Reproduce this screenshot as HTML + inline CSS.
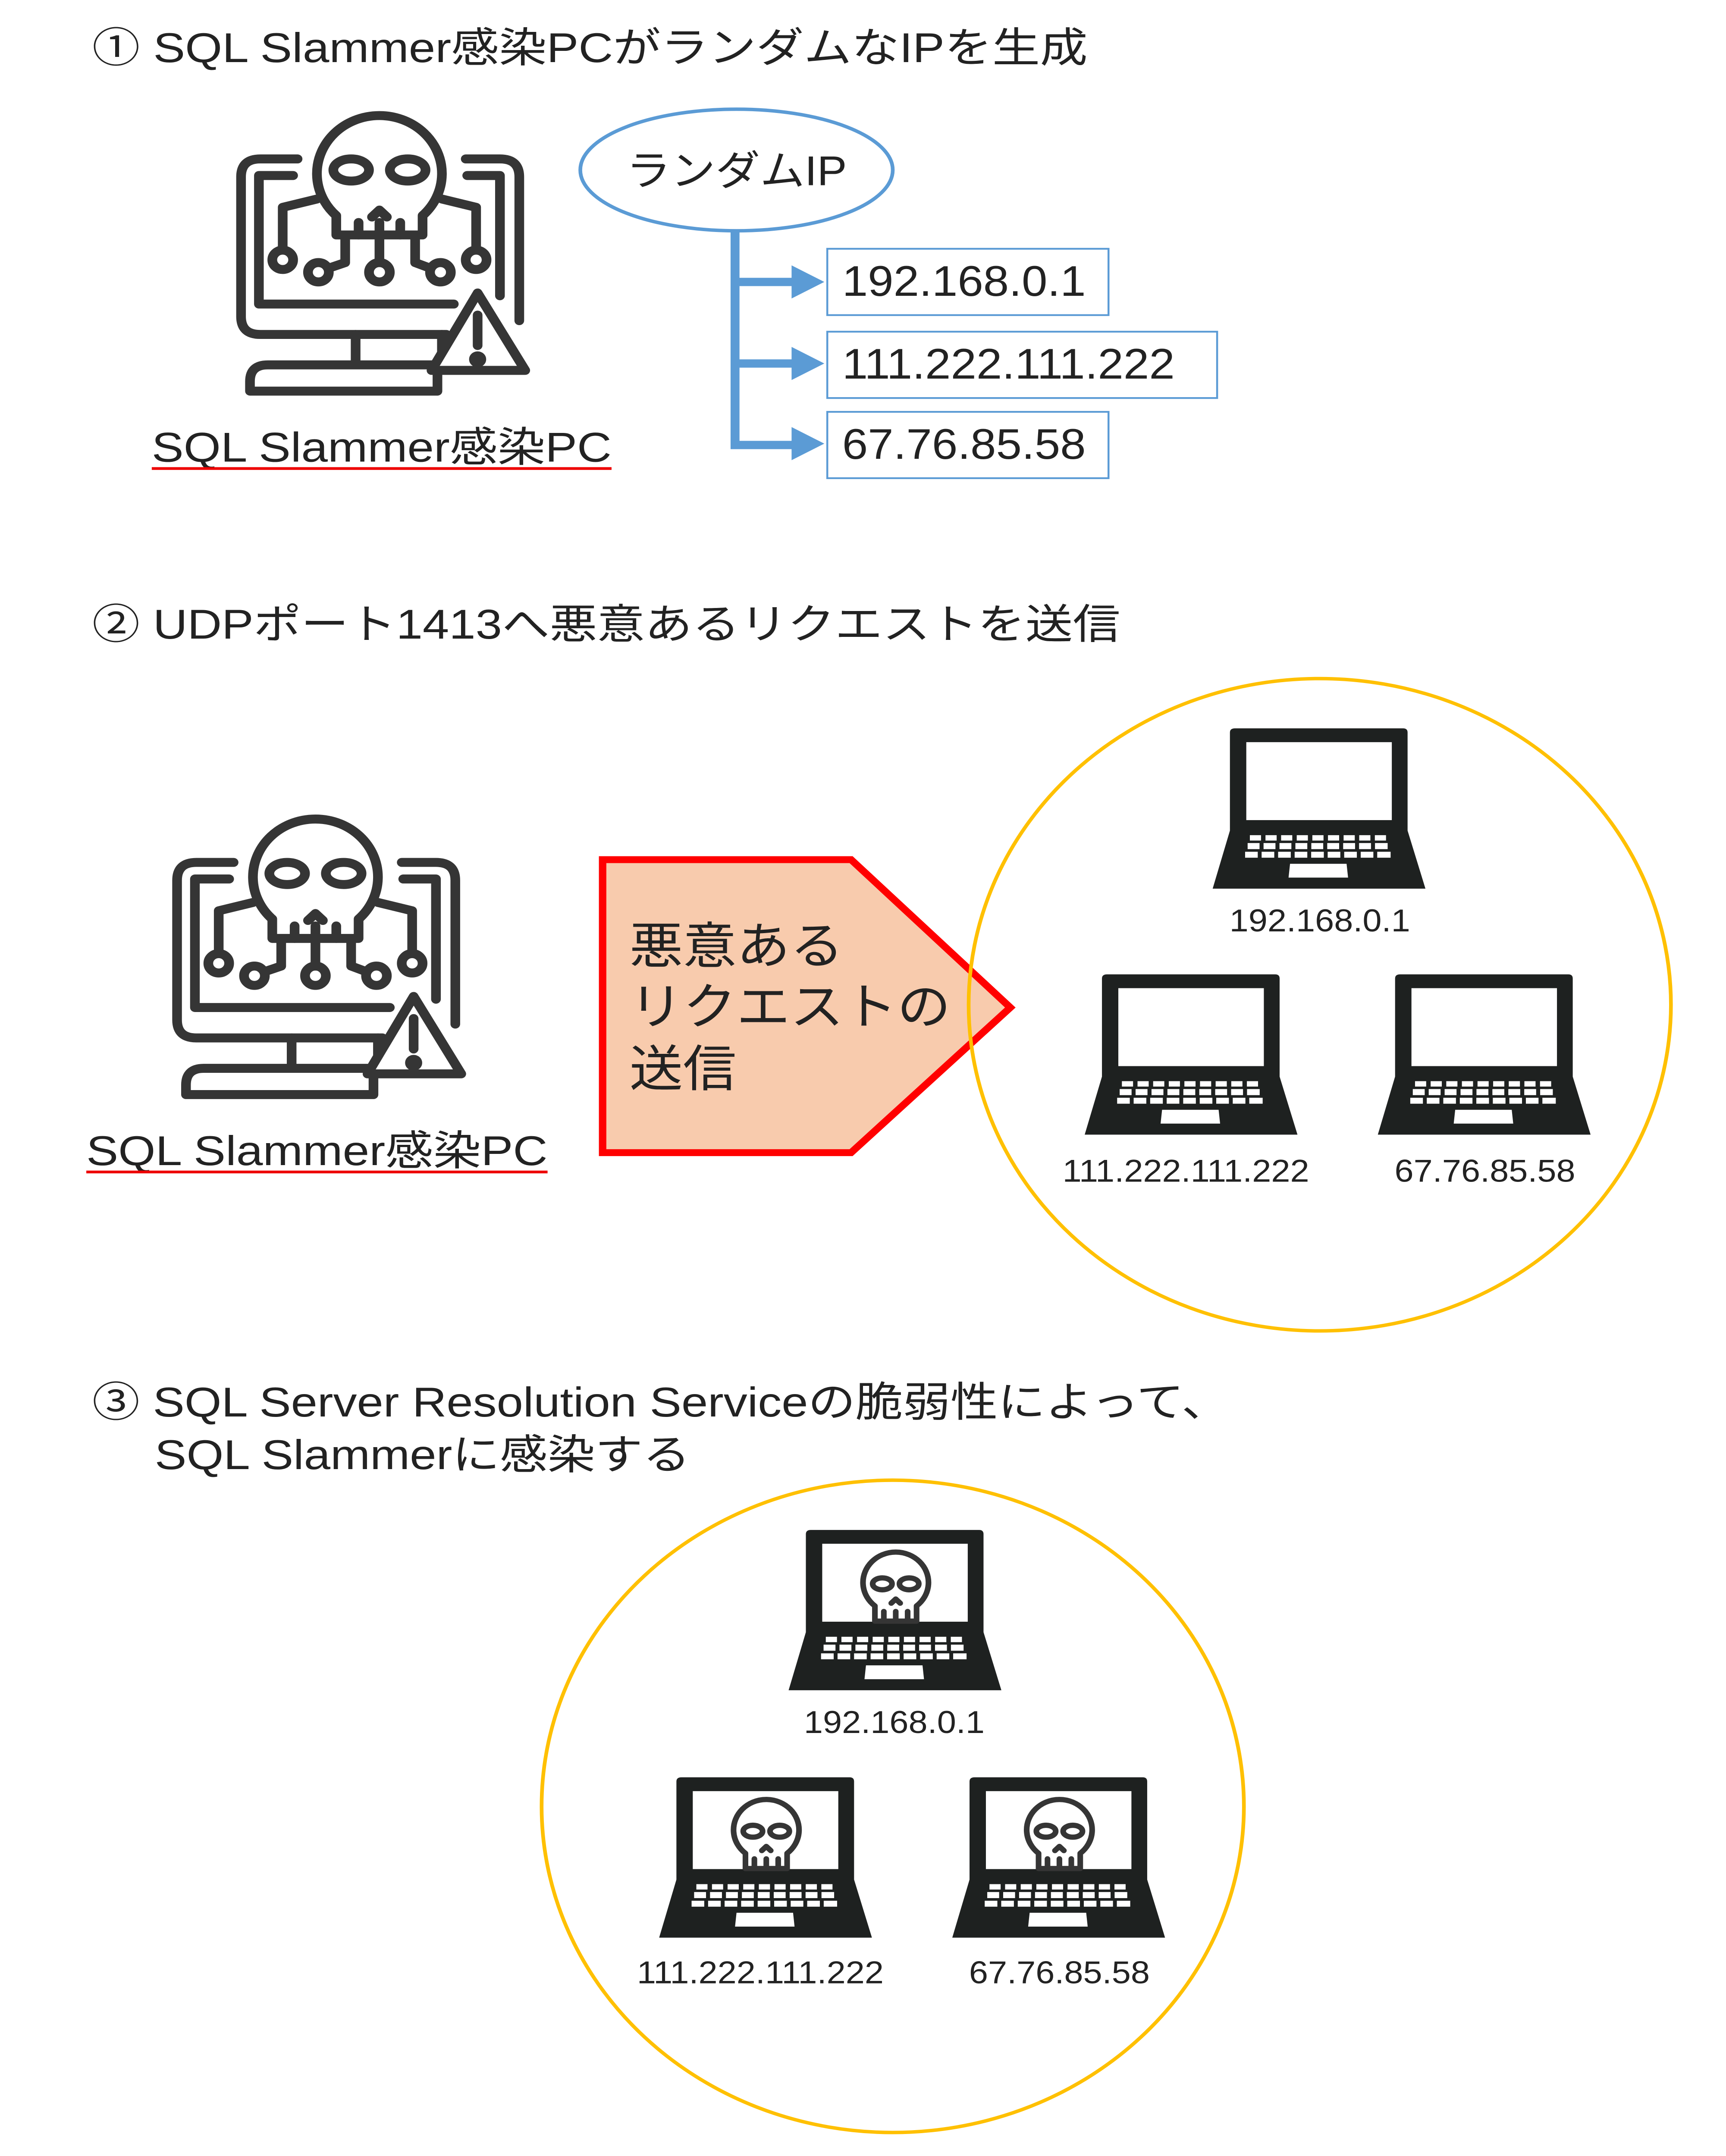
<!DOCTYPE html>
<html><head><meta charset="utf-8"><style>
html,body{margin:0;padding:0;background:#fff;width:100vw;height:100vh;overflow:hidden;}
svg{display:block;width:100vw;height:100vh;}
text{font-family:"Liberation Sans","Noto Sans CJK JP",sans-serif;fill:#222;}
</style></head><body>
<svg viewBox="0 0 1160 1560" preserveAspectRatio="none" xmlns="http://www.w3.org/2000/svg">
<defs>
<g id="mon" fill="none" stroke="#353535" stroke-width="6.5" stroke-linecap="round" stroke-linejoin="round">
  <path d="M200 115 H175 Q162 115 162 128 V229 Q162 242 175 242 H300"/>
  <path d="M313 115 H336 Q349 115 349 128 V232"/>
  <path d="M197 127 H174 V220 H305"/>
  <path d="M314 127 H336 V214"/>
  <path d="M226 156 A42 42 0 1 1 284 156 V170 H226 Z" fill="#fff"/>
  <path d="M241 161 V170 M255 161 V170 M269 161 V170"/>
  <path d="M250 157 L255 152 L260 157"/>
  <ellipse cx="236" cy="123" rx="12" ry="8"/>
  <ellipse cx="274" cy="123" rx="12" ry="8"/>
  <path d="M213 144 L190 150 V181"/>
  <path d="M297 144 L320 150 V181"/>
  <path d="M232 172 V190 L221 194"/>
  <path d="M279 172 V190 L289 194"/>
  <path d="M255 172 V190"/>
  <circle cx="190" cy="188" r="7"/>
  <circle cx="320" cy="188" r="7"/>
  <circle cx="214" cy="197" r="7"/>
  <circle cx="296" cy="197" r="7"/>
  <circle cx="255" cy="197" r="7"/>
  <path d="M239 242 V262 M297 242 V262"/>
  <path d="M180 264 H294 V283 H168 V276 Q168 264 180 264 Z"/>
  <path d="M321 212 L353 268 H290 Z" fill="#fff"/>
  <path d="M321 228 V250"/>
  <circle cx="321" cy="260" r="2.5" fill="#353535"/>
</g>
<g id="lap">
  <path d="M11.6 3 Q11.6 0 15 0 H128 Q131 0 131 3 V74 L143 116 H0 L11.6 74 Z" fill="#1e2120"/>
  <rect x="22.6" y="10" width="97.8" height="56.4" fill="#fff"/>
  <g fill="#fff">
    <rect x="25" y="77.3" width="7.5" height="3.9"/><rect x="35.5" y="77.3" width="7.5" height="3.9"/><rect x="46" y="77.3" width="7.5" height="3.9"/><rect x="56.5" y="77.3" width="7.5" height="3.9"/><rect x="67" y="77.3" width="7.5" height="3.9"/><rect x="77.5" y="77.3" width="7.5" height="3.9"/><rect x="88" y="77.3" width="7.5" height="3.9"/><rect x="98.5" y="77.3" width="7.5" height="3.9"/><rect x="109" y="77.3" width="7.5" height="3.9"/>
    <rect x="23.5" y="83" width="8" height="4.4"/><rect x="34.2" y="83" width="8" height="4.4"/><rect x="44.9" y="83" width="8" height="4.4"/><rect x="55.6" y="83" width="8" height="4.4"/><rect x="66.3" y="83" width="8" height="4.4"/><rect x="77" y="83" width="8" height="4.4"/><rect x="87.7" y="83" width="8" height="4.4"/><rect x="98.4" y="83" width="8" height="4.4"/><rect x="109.1" y="83" width="8.5" height="4.4"/>
    <rect x="21.8" y="89.3" width="8.5" height="4.3"/><rect x="32.9" y="89.3" width="8.5" height="4.3"/><rect x="44" y="89.3" width="8.5" height="4.3"/><rect x="55.1" y="89.3" width="8.5" height="4.3"/><rect x="66.2" y="89.3" width="8.5" height="4.3"/><rect x="77.3" y="89.3" width="8.5" height="4.3"/><rect x="88.4" y="89.3" width="8.5" height="4.3"/><rect x="99.5" y="89.3" width="8.5" height="4.3"/><rect x="110.6" y="89.3" width="9" height="4.3"/>
    <path d="M52 98 H90 L91 108 H51 Z"/>
  </g>
</g>
<g id="sk" fill="none" stroke="#353535" stroke-width="3.8" stroke-linecap="round" stroke-linejoin="round">
  <path d="M58 55 A22 22 0 1 1 86 55 V66 H58 Z" fill="#fff"/>
  <path d="M64 59 V66 M72 59 V66 M80 59 V66"/>
  <path d="M69 53 L72 50 L75 53"/>
  <ellipse cx="63" cy="39" rx="6.5" ry="4.3"/>
  <ellipse cx="81" cy="39" rx="6.5" ry="4.3"/>
</g>
</defs>

<text x="62" y="45" font-size="30" textLength="669" lengthAdjust="spacingAndGlyphs">① SQL Slammer感染PCがランダムなIPを生成</text>
<use href="#mon"/>
<text x="102" y="334" font-size="30" textLength="309" lengthAdjust="spacingAndGlyphs">SQL Slammer感染PC</text>
<line x1="102" y1="339" x2="411" y2="339" stroke="#e00" stroke-width="2"/>

<ellipse cx="495" cy="123" rx="105" ry="44" fill="#fff" stroke="#5B9BD5" stroke-width="2.5"/>
<text x="495" y="134" font-size="30" text-anchor="middle">ランダムIP</text>
<g stroke="#5B9BD5" stroke-width="6" fill="none">
  <path d="M494 167 V322 H536"/>
  <path d="M494 204 H536"/>
  <path d="M494 263 H536"/>
</g>
<g fill="#5B9BD5">
  <path d="M532 192 L554 204 L532 216 Z"/>
  <path d="M532 251 L554 263 L532 275 Z"/>
  <path d="M532 309 L554 321 L532 333 Z"/>
</g>
<g fill="#fff" stroke="#5B9BD5" stroke-width="1.3">
  <rect x="556" y="180" width="189" height="48"/>
  <rect x="556" y="240" width="262" height="48"/>
  <rect x="556" y="298" width="189" height="48"/>
</g>
<g font-size="31">
  <text x="566" y="214">192.168.0.1</text>
  <text x="566" y="274">111.222.111.222</text>
  <text x="566" y="332">67.76.85.58</text>
</g>

<text x="62" y="462" font-size="30" textLength="691" lengthAdjust="spacingAndGlyphs">② UDPポート1413へ悪意あるリクエストを送信</text>
<use href="#mon" transform="translate(-43 509)"/>
<text x="58" y="843" font-size="30" textLength="310" lengthAdjust="spacingAndGlyphs">SQL Slammer感染PC</text>
<line x1="58" y1="848" x2="368" y2="848" stroke="#e00" stroke-width="2"/>

<path d="M405 622 H572 L679 729 L572 834 H405 Z" fill="#F8CBAD" stroke="#f00" stroke-width="5"/>
<g font-size="36">
  <text x="423" y="697">悪意ある</text>
  <text x="423" y="741">リクエストの</text>
  <text x="423" y="786">送信</text>
</g>

<circle cx="887" cy="727" r="236" fill="none" stroke="#FFC000" stroke-width="2.5"/>
<use href="#lap" transform="translate(815 527)"/>
<use href="#lap" transform="translate(729 705)"/>
<use href="#lap" transform="translate(926 705)"/>
<g font-size="23" text-anchor="middle">
  <text x="887" y="674">192.168.0.1</text>
  <text x="797" y="855">111.222.111.222</text>
  <text x="998" y="855">67.76.85.58</text>
</g>

<text x="62" y="1025" font-size="30" textLength="764" lengthAdjust="spacingAndGlyphs">③ SQL Server Resolution Serviceの脆弱性によって、</text>
<text x="104" y="1063" font-size="30" textLength="360" lengthAdjust="spacingAndGlyphs">SQL Slammerに感染する</text>

<circle cx="600" cy="1307" r="236" fill="none" stroke="#FFC000" stroke-width="2.5"/>
<use href="#lap" transform="translate(530 1107)"/>
<use href="#sk" transform="translate(530 1107)"/>
<use href="#lap" transform="translate(443 1286)"/>
<use href="#sk" transform="translate(443 1286)"/>
<use href="#lap" transform="translate(640 1286)"/>
<use href="#sk" transform="translate(640 1286)"/>
<g font-size="23" text-anchor="middle">
  <text x="601" y="1254">192.168.0.1</text>
  <text x="511" y="1435">111.222.111.222</text>
  <text x="712" y="1435">67.76.85.58</text>
</g>
</svg>
</body></html>
